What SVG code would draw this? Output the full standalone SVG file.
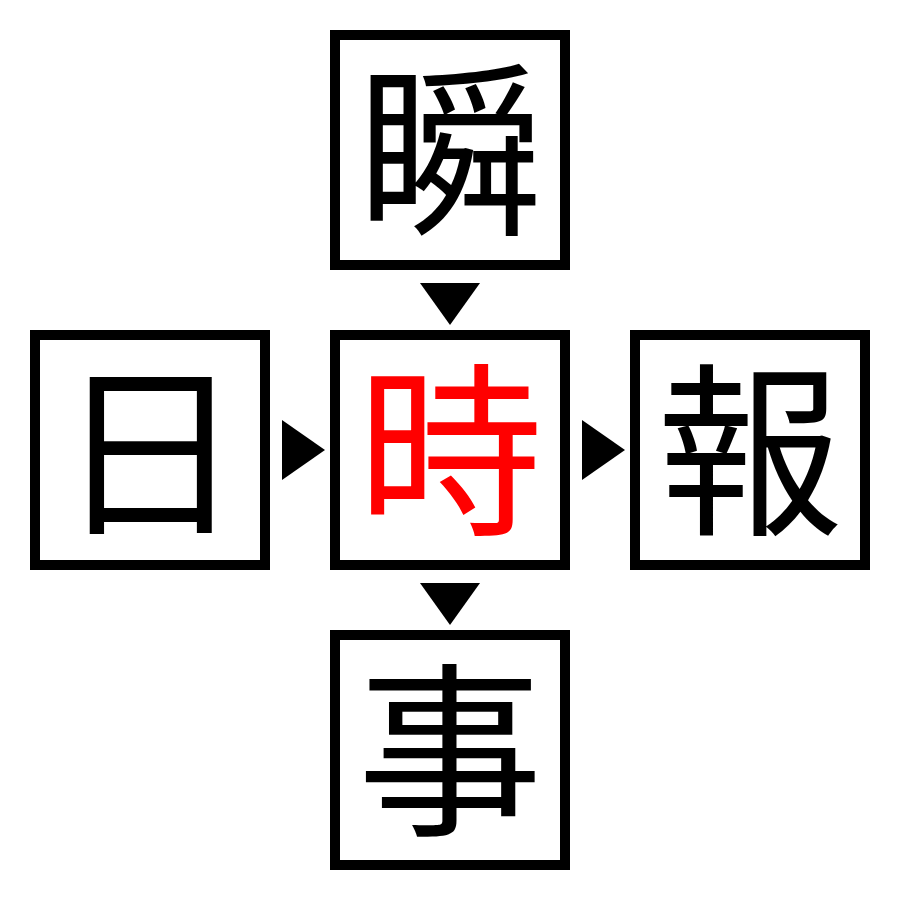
<svg xmlns="http://www.w3.org/2000/svg" width="900" height="900" viewBox="0 0 900 900">
<style>
.box{fill:#fff;stroke:#000;stroke-width:10}
.ch{font-family:"Noto Sans CJK JP","Noto Sans CJK SC",sans-serif;font-size:186px;text-anchor:middle;fill:#000}
.hl{fill:#ff0000}
.arr{fill:#000}
</style>
<rect width="900" height="900" fill="#fff"/>
<g id="node-top"><rect class="box" x="335" y="35" width="230" height="230"/><text class="ch" x="450" y="221">瞬</text></g>
<g id="node-left"><rect class="box" x="35" y="335" width="230" height="230"/><text class="ch" x="150" y="521">日</text></g>
<g id="node-center"><rect class="box" x="335" y="335" width="230" height="230"/><text class="ch hl" x="450" y="521">時</text></g>
<g id="node-right"><rect class="box" x="635" y="335" width="230" height="230"/><text class="ch" x="750" y="521">報</text></g>
<g id="node-bottom"><rect class="box" x="335" y="635" width="230" height="230"/><text class="ch" x="450" y="821">事</text></g>
<g id="connectors">
<polygon class="arr" points="420,283 480,283 450,325"/>
<polygon class="arr" points="282,420 325,450 282,480"/>
<polygon class="arr" points="582,420 625,450 582,480"/>
<polygon class="arr" points="420,583 480,583 450,625"/>
</g>
</svg>
